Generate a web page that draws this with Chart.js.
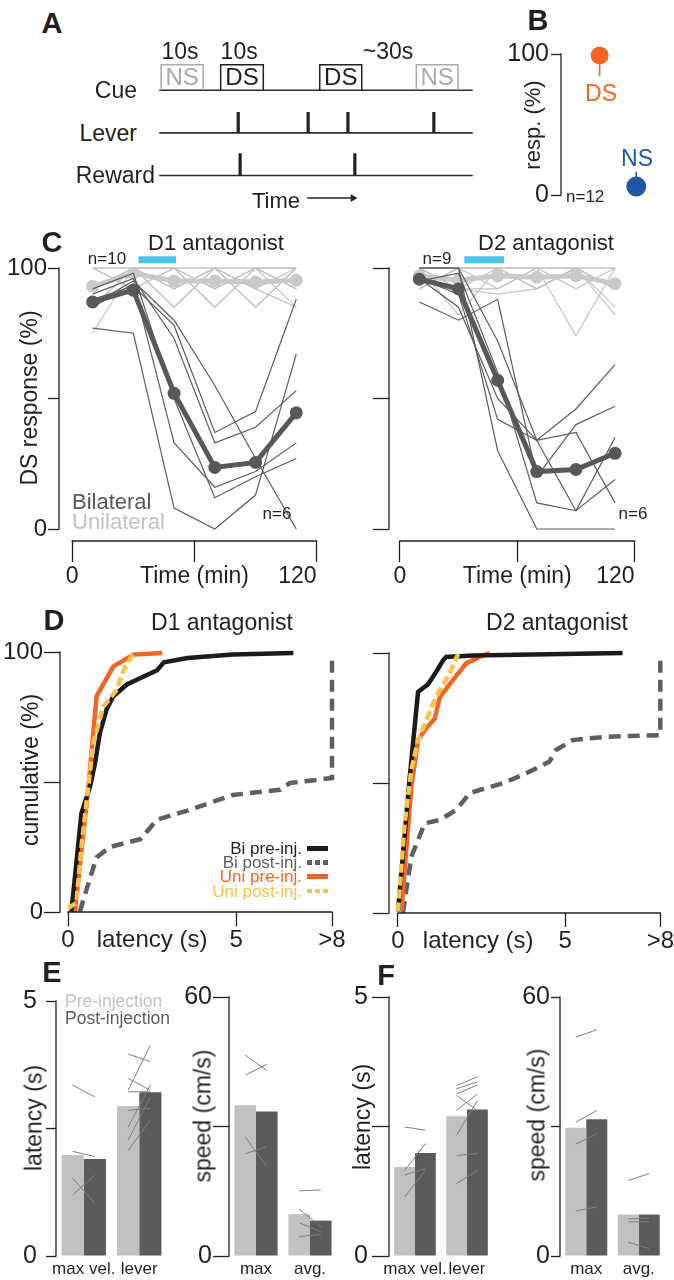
<!DOCTYPE html>
<html>
<head>
<meta charset="utf-8">
<script src="https://cdn.jsdelivr.net/npm/chart.js@4.4.1/dist/chart.umd.min.js"></script>
<style>
  body { margin: 0; background: #fff; }
  #fig { position: relative; width: 674px; height: 1280px; overflow: hidden; background: #fff;
         font-family: 'Liberation Sans', Arial, Helvetica, sans-serif; color: #231f20; }
  #fig canvas { position: absolute; }
  .t { position: absolute; white-space: nowrap; line-height: 1; }
</style>
</head>
<body>
<div id="fig"></div>
<script>
// ---- A: trial schematic (arbitrary time units along the session)
const cueNames = ['NS', 'DS', 'DS', 'NS'];
const cueOn = [0.6, 19.6, 51.2, 82.0];
const cueOff = [14.0, 33.2, 64.6, 95.3];
const leverPresses = [25.2, 47.5, 60.2, 87.6];
const rewardTimes = [25.8, 62.4];
const rowNames = ['Cue', 'Lever', 'Reward'];

// ---- B: response probability
const respCues = ['DS', 'NS'];
const respMean = [99, 6];
const respErr = [84, 16.5];

// ---- C: DS response over session (min)
const times = [10, 30, 50, 70, 90, 110];
const d1BiMean = [87, 91.5, 52, 23.6, 25.5, 44.5];
const d1UniMean = [93, 98, 95, 95, 94.6, 95.3];
const d1Bi = [
  [77, 75, 8, 0, 13, 67],
  [88, 93, 78, 37, 45, 88],
  [90, 96, 73, 33, 39, 53],
  [85, 94, 33, 16, 22, 33],
  [92, 98, 50, 12, 20, 27],
  [86, 95, 80, 55, 27, 0]
];
const d1Uni = [
  [100, 100, 100, 100, 100, 100],
  [92, 100, 85, 100, 85, 100],
  [85, 100, 100, 85, 100, 92],
  [100, 100, 92, 100, 92, 85],
  [92, 100, 100, 92, 100, 100],
  [75, 100, 92, 100, 85, 100],
  [100, 92, 100, 85, 100, 92],
  [92, 100, 85, 100, 100, 100],
  [100, 92, 100, 100, 92, 100],
  [85, 100, 100, 92, 100, 85]
];
const d2BiMean = [95.7, 92, 57, 22, 22.8, 29];
const d2UniMean = [97, 95.3, 97, 96.5, 97, 94];
const d2Bi = [
  [100, 100, 30, 0, 0, 0],
  [100, 100, 72, 34, 46, 63],
  [87, 80, 88, 20, 40, 47],
  [95, 98, 60, 10, 7, 19],
  [96, 85, 50, 34, 7, 35],
  [96, 90, 42, 34, 37, 10]
];
const d2Uni = [
  [100, 100, 100, 100, 100, 100],
  [100, 92, 100, 92, 100, 92],
  [92, 100, 92, 100, 92, 100],
  [100, 100, 100, 92, 100, 85],
  [100, 82, 100, 100, 100, 82],
  [92, 100, 100, 100, 74, 100],
  [100, 92, 92, 100, 100, 92],
  [92, 100, 100, 92, 100, 100],
  [100, 92, 90, 92, 100, 92]
];
const d1Drug = [32.5, 51];
const d2Drug = [33, 53.3];

// ---- D: cumulative latency, [latency s, cumulative %]; 7.85 is the ">8" bin
const OVER8 = 7.85;
const d1BiPre = [[0.1, 0], [0.4, 38], [0.65, 48], [0.8, 57], [0.95, 69], [1.15, 78], [1.35, 83], [1.75, 87.5], [2.65, 93], [2.85, 96], [3.55, 97.7], [4.9, 99], [6.7, 99.6]];
const d1BiPost = [[0.35, 0], [0.55, 8.6], [0.85, 21], [1.25, 25], [2.15, 28], [2.65, 35.5], [3.55, 39], [4.9, 45], [6.3, 47], [6.6, 49.6], [OVER8, 51.5], [OVER8, 97.7]];
const d1UniPre = [[0.2, 0], [0.6, 47], [0.85, 83], [1.35, 94.5], [1.95, 99], [2.8, 99.6]];
const d1UniPost = [[0, 1.5], [0.25, 3.5], [0.4, 25], [0.55, 42], [0.75, 65], [1.05, 79], [1.45, 85.5], [1.65, 93], [1.95, 99.6]];
const d2BiPre = [[0, 0.6], [0.35, 52], [0.6, 85], [0.9, 88], [1.14, 92.7], [1.34, 97], [1.44, 98.5], [2.24, 99], [6.72, 100]];
const d2BiPost = [[0.15, 0], [0.25, 9], [0.4, 21.7], [0.8, 34.5], [1.25, 35.8], [1.74, 39.6], [2.14, 46], [2.44, 47.3], [3.14, 49.9], [3.83, 53.7], [4.53, 58.2], [4.73, 62.7], [5.23, 66.5], [6.22, 67.8], [OVER8, 68.4], [OVER8, 99.7]];
const d2UniPre = [[0.1, 0.6], [0.4, 48.6], [0.6, 66.5], [0.8, 70.3], [1.1, 74.8], [1.25, 83], [1.55, 88], [2.04, 96], [2.44, 98.5], [2.74, 100]];
const d2UniPost = [[0, 0.6], [0.2, 34.5], [0.4, 55], [0.6, 66.5], [0.85, 74], [1.05, 80.6], [1.25, 85.7], [1.54, 92], [1.8, 99.7]];
const legendNames = ['Bi pre-inj.', 'Bi post-inj.', 'Uni pre-inj.', 'Uni post-inj.'];

// ---- E / F: movement measures, pre vs post injection; pairs = [group, pre, post]
const latGroups = ['max vel.', 'lever'];
const speedGroups = ['max', 'avg.'];
const eLatPre = [1.98, 2.94], eLatPost = [1.90, 3.21];
const eLatPairs = [[0, 3.3, 3.07], [0, 2.02, 1.92], [0, 1.18, 1.56], [0, 1.5, 1.02],
  [1, 3.2, 4.07], [1, 3.9, 3.75], [1, 3.43, 3.2], [1, 2.81, 2.85], [1, 2.04, 2.62], [1, 2.24, 3.07], [1, 2.49, 3.3], [1, 3.17, 3.17]];
const eSpdPre = [34.9, 9.7], eSpdPost = [33.5, 8.2];
const eSpdPairs = [[0, 41.9, 44.4], [0, 46.5, 43.0], [0, 27.6, 20.7], [0, 23.7, 25.3],
  [1, 15.1, 15.3], [1, 10.8, 6.8], [1, 7.7, 5.6], [1, 4.5, 5.0]];
const fLatPre = [1.72, 2.70], fLatPost = [1.99, 2.83];
const fLatPairs = [[0, 2.49, 2.43], [0, 1.65, 2.17], [0, 1.56, 1.69], [0, 1.14, 1.65],
  [1, 3.29, 3.46], [1, 3.23, 3.36], [1, 3.13, 3.3], [1, 3.1, 2.81], [1, 2.81, 3.13], [1, 2.33, 3.0], [1, 1.94, 1.98], [1, 1.4, 1.65]];
const fSpdPre = [29.7, 9.6], fSpdPost = [31.7, 9.6];
const fSpdPairs = [[0, 50.7, 52.4], [0, 31.0, 33.7], [0, 25.9, 28.3], [0, 10.4, 11.4],
  [1, 17.5, 19.1], [1, 8.6, 8.8], [1, 7.9, 7.9], [1, 3.2, 1.7]];

const fig = document.getElementById('fig');
const INK = '#231f20';
const ORANGE = '#f26522', BLUE = '#1f56a6', YELLOW = '#f8c24c', DGRAY = '#5f5f61', BLACK = '#1c1a1b';
const PRE = '#c2c0c0', POST = '#5e5a5b';

Chart.defaults.font.family = "'Liberation Sans', Arial, Helvetica, sans-serif";
Chart.defaults.color = INK;
Chart.defaults.animation = false;
Chart.defaults.responsive = false;
Chart.defaults.events = [];
Chart.defaults.plugins.legend.display = false;
Chart.defaults.plugins.tooltip.enabled = false;

// axis lines that stop at the outer ticks
Chart.register({
  id: 'spines',
  afterDatasetsDraw(chart, args, opts) {
    const { ctx, chartArea: a, scales } = chart;
    ctx.save();
    ctx.strokeStyle = INK;
    ctx.lineWidth = 1.3;
    ctx.beginPath();
    if (opts.x) {
      ctx.moveTo(scales.x.getPixelForValue(opts.x[0]) - 0.65, a.bottom);
      ctx.lineTo(scales.x.getPixelForValue(opts.x[1]) + 0.65, a.bottom);
    }
    if (opts.y) {
      ctx.moveTo(a.left, scales.y.getPixelForValue(opts.y[0]) + 0.65);
      ctx.lineTo(a.left, scales.y.getPixelForValue(opts.y[1]) - 0.65);
    }
    ctx.stroke();
    ctx.restore();
  }
});

// values at two pixel positions -> values at the chart area edges
function span(p0, v0, p1, v1, pa, pb) {
  const k = (v1 - v0) / (p1 - p0);
  return [v0 + (pa - p0) * k, v0 + (pb - p0) * k];
}

function place(area, m, yW, xH, config) {
  const c = document.createElement('canvas');
  const w = area.r - area.l + m.l + m.r, h = area.b - area.t + m.t + m.b;
  c.width = w; c.height = h;
  c.style.left = (area.l - m.l) + 'px';
  c.style.top = (area.t - m.t) + 'px';
  c.style.width = w + 'px';
  c.style.height = h + 'px';
  fig.appendChild(c);
  config.options.layout = { padding: { left: m.l - yW, right: m.r, top: m.t, bottom: m.b - xH } };
  const chart = new Chart(c, config);
  chart.offX = area.l - m.l;
  chart.offY = area.t - m.t;
  return chart;
}

function label(str, x, y, size, o = {}) {
  const d = document.createElement('div');
  d.className = 't';
  d.textContent = str;
  const ax = o.align === 'left' ? '0' : o.align === 'right' ? '-100%' : '-50%';
  d.style.left = x + 'px';
  d.style.top = y + 'px';
  d.style.fontSize = size + 'px';
  if (o.color) d.style.color = o.color;
  if (o.bold) d.style.fontWeight = 'bold';
  d.style.transform = `translate(${ax},-50%)` + (o.rotate ? ` rotate(${o.rotate}deg)` : '');
  fig.appendChild(d);
  return d;
}

function linAxis(range, ticks, labels, o) {
  return {
    type: 'linear', position: o.pos, min: range[0], max: range[1],
    afterBuildTicks: s => { s.ticks = ticks.map(v => ({ value: v })); },
    afterFit: s => { if (o.pos === 'left') s.width = o.size; else s.height = o.size; },
    border: { display: false },
    grid: {
      drawOnChartArea: false, drawTicks: true, tickLength: o.tick, tickWidth: 1.3,
      tickColor: c => (o.noMark || []).includes(c.tick && c.tick.value) ? 'rgba(0,0,0,0)' : INK
    },
    ticks: {
      autoSkip: false, maxRotation: 0, minRotation: 0, padding: o.pad, color: INK,
      font: { size: o.font }, callback: (v, i) => labels[i]
    }
  };
}

const hidden = r => ({ type: 'linear', display: false, min: r[0], max: r[1] });

function finish(sets) {
  sets.forEach((s, i) => {
    s.order = sets.length - i;
    s.clip = false;
    s.fill = false;
    s.tension = 0;
    if (s.pointRadius === undefined) s.pointRadius = 0;
    s.pointBorderWidth = 0;
  });
  return sets;
}

// ================= A
const aArea = { l: 145, r: 485, t: 45, b: 215 };
const aSets = [];
[3, 2, 1].forEach(y => aSets.push({ data: [{ x: 0, y }, { x: 100, y }], borderColor: '#2e2c2d', borderWidth: 1.6 }));
cueNames.forEach((n, i) => aSets.push({
  data: [{ x: cueOn[i], y: 3 }, { x: cueOn[i], y: 3.6 }, { x: cueOff[i], y: 3.6 }, { x: cueOff[i], y: 3 }],
  borderColor: n === 'NS' ? '#a9a9a9' : INK, borderWidth: 1.5
}));
leverPresses.forEach(t => aSets.push({ data: [{ x: t, y: 2 }, { x: t, y: 2.49 }], borderColor: INK, borderWidth: 3.2 }));
rewardTimes.forEach(t => aSets.push({ data: [{ x: t, y: 1 }, { x: t, y: 1.52 }], borderColor: INK, borderWidth: 3.2 }));
aSets.push({
  data: [{ x: 47.2, y: 0.47 }, { x: 61.8, y: 0.47 }], borderColor: INK, borderWidth: 1.5,
  pointRadius: [0, 4.5], pointStyle: 'triangle', rotation: 90, pointBackgroundColor: INK
});
const chartA = place(aArea, { l: 0, r: 0, t: 0, b: 0 }, 0, 0, {
  type: 'line', data: { datasets: finish(aSets) },
  options: { scales: { x: hidden(span(155, 0, 477, 100, aArea.l, aArea.r)), y: hidden(span(178, 1, 88, 3, aArea.b, aArea.t)) } }
});
const ax = v => chartA.scales.x.getPixelForValue(v) + chartA.offX;
const ay = v => chartA.scales.y.getPixelForValue(v) + chartA.offY;
cueNames.forEach((n, i) => label(n, ax((cueOn[i] + cueOff[i]) / 2), ay(3.3), 24, { color: n === 'NS' ? '#a9a9a9' : INK }));
label('10s', ax(6.6), 51, 23);
label('10s', ax(25.5), 51, 23);
label('~30s', ax(73), 51, 23);
rowNames.forEach((n, i) => label(n, n === 'Reward' ? 155 : 137, ay(3 - i), 23, { align: 'right' }));
label('Time', 276, 201, 22);

// ================= B
const bArea = { l: 561, r: 665, t: 52, b: 197 };
const bSets = [];
respCues.forEach((c, i) => bSets.push({
  data: [{ x: i + 1, y: respMean[i] }, { x: i + 1, y: respErr[i] }],
  borderColor: i === 0 ? ORANGE : BLUE, borderWidth: 1.6
}));
respCues.forEach((c, i) => bSets.push({
  data: [{ x: i + 1, y: respMean[i] }], showLine: false,
  pointRadius: i === 0 ? 9 : 10, pointBackgroundColor: i === 0 ? ORANGE : BLUE
}));
place(bArea, { l: 55, r: 9, t: 15, b: 15 }, 55, 0, {
  type: 'line', data: { datasets: finish(bSets) },
  options: {
    plugins: { spines: { y: [0, 100] } },
    scales: {
      x: hidden(span(600, 1, 637, 2, bArea.l, bArea.r)),
      y: linAxis([0, 100], [0, 100], ['0', '100'], { pos: 'left', size: 55, tick: 10, pad: 2, font: 25 })
    }
  }
});
label('resp. (%)', 533, 125, 22, { rotate: -90 });
label('DS', 601, 93, 23, { color: ORANGE });
label('NS', 637, 158, 23, { color: BLUE });
label('n=12', 566, 196, 17, { align: 'left' });

// ================= C
function courseChart(o) {
  const pts = row => row.map((v, i) => ({ x: times[i], y: v }));
  const sets = [];
  o.uni.forEach(r => sets.push({ data: pts(r), borderColor: '#c4c4c4', borderWidth: 1.2 }));
  sets.push({ data: pts(o.uniMean), borderColor: '#c9c9c9', borderWidth: 5, pointRadius: 6.5, pointBackgroundColor: '#c9c9c9' });
  o.bi.forEach(r => sets.push({ data: pts(r), borderColor: '#5c5c5e', borderWidth: 1.2 }));
  sets.push({ data: pts(o.biMean), borderColor: '#58585a', borderWidth: 5, pointRadius: 6.5, pointBackgroundColor: '#58585a' });
  sets.push({ data: o.drug.map(x => ({ x, y: 103.2 })), borderColor: '#4cc3eb', borderWidth: 7, borderCapStyle: 'butt' });
  const a = o.area;
  return place(a, o.m, o.yW, 50, {
    type: 'line', data: { datasets: finish(sets) },
    options: {
      plugins: { spines: { x: [0, 120], y: [0, 100] } },
      scales: {
        x: linAxis(span(o.x0, 0, o.x120, 120, a.l, a.r), [0, 60, 120], ['0', 'Time (min)', '120\u2007\u2007\u2007'],
          { pos: 'bottom', size: 50, tick: 21, pad: 1, font: 23 }),
        y: linAxis(span(529, 0, 268, 100, a.b, a.t), [0, 50, 100], o.yLabels,
          { pos: 'left', size: o.yW, tick: o.tick, pad: 1, font: 24 })
      }
    }
  });
}
courseChart({ area: { l: 59, r: 331, t: 268, b: 541 }, m: { l: 59, r: 25, t: 20, b: 50 }, yW: 59, tick: 11,
  x0: 73, x120: 331, yLabels: ['0', '', '100'], uni: d1Uni, uniMean: d1UniMean, bi: d1Bi, biMean: d1BiMean, drug: d1Drug });
courseChart({ area: { l: 389, r: 662, t: 268, b: 541 }, m: { l: 40, r: 12, t: 20, b: 50 }, yW: 40, tick: 16,
  x0: 401, x120: 662, yLabels: ['', '', ''], uni: d2Uni, uniMean: d2UniMean, bi: d2Bi, biMean: d2BiMean, drug: d2Drug });
label('D1 antagonist', 216, 243, 22);
label('D2 antagonist', 546, 243, 22);
label('n=10', 107, 258, 17);
label('n=9', 437, 258, 17);
label('n=6', 277, 513, 17);
label('n=6', 633, 513, 17);
label('DS response (%)', 29, 398, 23, { rotate: -90 });
label('Bilateral', 72, 502, 22, { align: 'left', color: '#58585a' });
label('Unilateral', 72, 522, 22, { align: 'left', color: '#c2c2c2' });

// ================= D
function cumChart(o) {
  const pts = a => a.map(([x, y]) => ({ x, y }));
  const sets = [
    { data: pts(o.biPost), borderColor: DGRAY, borderDash: [12, 7] },
    { data: pts(o.uniPre), borderColor: ORANGE },
    { data: pts(o.biPre), borderColor: BLACK },
    { data: pts(o.uniPost), borderColor: YELLOW, borderDash: [9, 4] }
  ];
  sets.forEach(s => { s.borderWidth = 4.5; s.borderCapStyle = 'butt'; });
  const a = o.area;
  return place(a, o.m, o.yW, 45, {
    type: 'line', data: { datasets: finish(sets) },
    options: {
      plugins: { spines: { x: [0, OVER8], y: [0, 100] } },
      scales: {
        x: linAxis(span(o.x0, 0, o.x8, OVER8, a.l, a.r), [0, o.titleAt, 5, OVER8], ['0', 'latency (s)', '5', '>8'],
          { pos: 'bottom', size: 45, tick: 14, pad: 0, font: 24, noMark: [o.titleAt] }),
        y: linAxis([0, 100], [0, 50, 100], o.yLabels, { pos: 'left', size: o.yW, tick: 16, pad: 1, font: 24 })
      }
    }
  });
}
cumChart({ area: { l: 60, r: 332, t: 652, b: 912 }, m: { l: 60, r: 20, t: 20, b: 45 }, yW: 60, x0: 68, x8: 332,
  titleAt: 2.5, yLabels: ['0', '', '100'], biPre: d1BiPre, biPost: d1BiPost, uniPre: d1UniPre, uniPost: d1UniPost });
cumChart({ area: { l: 389, r: 661, t: 653, b: 913 }, m: { l: 40, r: 13, t: 20, b: 45 }, yW: 40, x0: 398, x8: 661,
  titleAt: 2.4, yLabels: ['', '', ''], biPre: d2BiPre, biPost: d2BiPost, uniPre: d2UniPre, uniPost: d2UniPost });
label('D1 antagonist', 222, 622, 23);
label('D2 antagonist', 557, 622, 23);
label('cumulative  (%)', 30, 770, 23, { rotate: -90 });
const legColors = [BLACK, DGRAY, ORANGE, YELLOW];
legendNames.forEach((n, i) => {
  const y = 848 + i * 14.2;
  label(n, 302, y, 17, { align: 'right', color: i === 0 ? INK : legColors[i] });
  const s = document.createElement('div');
  const dashed = i % 2 === 1;
  s.style.cssText = `position:absolute;left:307px;top:${y - 2}px;width:21px;height:4.5px;` +
    (dashed ? `background:repeating-linear-gradient(90deg,${legColors[i]} 0 5px,transparent 5px 8px);`
            : `background:${legColors[i]};`);
  fig.appendChild(s);
});

// ================= E / F: bars on one canvas, paired lines on a matching overlay
function barChart(o) {
  const top = o.yMax;
  place(o.area, o.m, o.yW, 24, {
    type: 'bar',
    data: {
      labels: o.groups,
      datasets: [
        { data: o.pre, backgroundColor: PRE, borderWidth: 0 },
        { data: o.post, backgroundColor: POST, borderWidth: 0 }
      ]
    },
    options: {
      datasets: { bar: { barPercentage: 1, categoryPercentage: 0.8 } },
      plugins: { spines: { y: [0, top] } },
      scales: {
        x: {
          type: 'category', grid: { display: false, drawTicks: false }, border: { display: false },
          ticks: { font: { size: 17 }, padding: 3, color: INK, maxRotation: 0, autoSkip: false },
          afterFit: s => { s.height = 24; }
        },
        y: linAxis([0, top], [0, top / 2, top], ['0', '', String(top)], { pos: 'left', size: o.yW, tick: o.tick, pad: o.pad, font: 25 })
      }
    }
  });
  const lines = o.pairs.map(([g, p, q]) => ({
    data: [{ x: g - 0.2, y: p }, { x: g + 0.2, y: q }], borderColor: '#807e7e', borderWidth: 1
  }));
  place(o.area, o.m, 0, 0, {
    type: 'line', data: { datasets: finish(lines) },
    options: { scales: { x: hidden([-0.5, 1.5]), y: hidden([0, top]) } }
  });
}
barChart({ area: { l: 56, r: 167, t: 997, b: 1256 }, m: { l: 56, r: 8, t: 20, b: 24 }, yW: 56, tick: 10, pad: 9,
  yMax: 5, groups: latGroups, pre: eLatPre, post: eLatPost, pairs: eLatPairs });
barChart({ area: { l: 229, r: 337, t: 997, b: 1256 }, m: { l: 50, r: 8, t: 20, b: 24 }, yW: 50, tick: 16, pad: 1,
  yMax: 60, groups: speedGroups, pre: eSpdPre, post: eSpdPost, pairs: eSpdPairs });
barChart({ area: { l: 389, r: 493, t: 997, b: 1256 }, m: { l: 50, r: 8, t: 20, b: 24 }, yW: 50, tick: 17, pad: 4,
  yMax: 5, groups: latGroups, pre: fLatPre, post: fLatPost, pairs: fLatPairs });
barChart({ area: { l: 560, r: 665, t: 997, b: 1256 }, m: { l: 50, r: 9, t: 20, b: 24 }, yW: 50, tick: 9, pad: 1,
  yMax: 60, groups: speedGroups, pre: fSpdPre, post: fSpdPost, pairs: fSpdPairs });
label('latency (s)', 34, 1118, 23, { rotate: -90 });
label('speed (cm/s)', 203, 1116, 23, { rotate: -90 });
label('latency (s)', 362, 1117, 23, { rotate: -90 });
label('speed (cm/s)', 537, 1115, 23, { rotate: -90 });
label('Pre-injection', 65, 1002, 17.5, { align: 'left', color: '#c2c0c0' });
label('Post-injection', 65, 1019, 17.5, { align: 'left', color: '#5e5a5b' });

// ================= panel letters
[['A', 52, 23], ['B', 538, 20], ['C', 52, 242], ['D', 54, 620], ['E', 52, 972], ['F', 386, 975]]
  .forEach(([s, x, y]) => label(s, x, y, 29, { bold: true }));
</script>
</body>
</html>
